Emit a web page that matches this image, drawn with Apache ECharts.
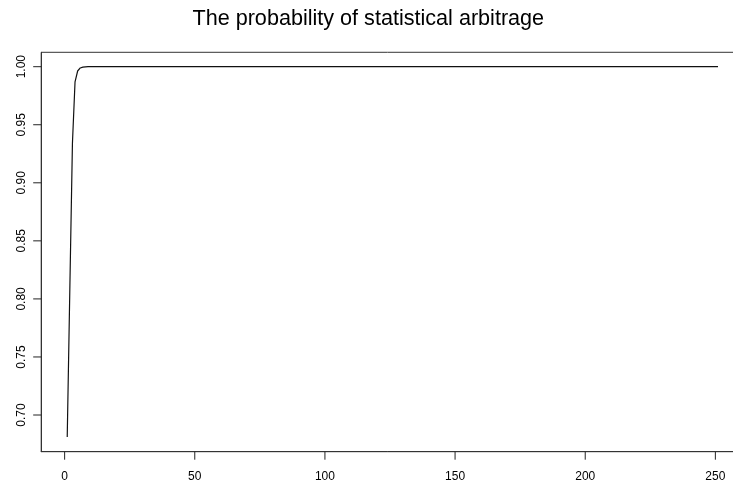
<!DOCTYPE html>
<html><head><meta charset="utf-8">
<script src="https://cdn.jsdelivr.net/npm/echarts@6/dist/echarts.min.js"></script>
<style>html,body{margin:0;padding:0;background:#fff}#c{width:733px;height:484px}</style>
</head><body><div id="c"></div>
<script>
const titleText = 'The probability of statistical arbitrage';
const xTicks = [0, 50, 100, 150, 200, 250];
const yTicks = [0.70, 0.75, 0.80, 0.85, 0.90, 0.95, 1.00];
const firstStep = 1;
const probs = [
  0.681, 0.8085, 0.934, 0.987, 0.9963, 0.9989, 0.9996, 0.9999,
  1,1,1,1,1,1,1,1,1,1,
  1,1,1,1,1,1,1,1,1,1,
  1,1,1,1,1,1,1,1,1,1,
  1,1,1,1,1,1,1,1,1,1,
  1,1,1,1,1,1,1,1,1,1,
  1,1,1,1,1,1,1,1,1,1,
  1,1,1,1,1,1,1,1,1,1,
  1,1,1,1,1,1,1,1,1,1,
  1,1,1,1,1,1,1,1,1,1,
  1,1,1,1,1,1,1,1,1,1,
  1,1,1,1,1,1,1,1,1,1,
  1,1,1,1,1,1,1,1,1,1,
  1,1,1,1,1,1,1,1,1,1,
  1,1,1,1,1,1,1,1,1,1,
  1,1,1,1,1,1,1,1,1,1,
  1,1,1,1,1,1,1,1,1,1,
  1,1,1,1,1,1,1,1,1,1,
  1,1,1,1,1,1,1,1,1,1,
  1,1,1,1,1,1,1,1,1,1,
  1,1,1,1,1,1,1,1,1,1,
  1,1,1,1,1,1,1,1,1,1,
  1,1,1,1,1,1,1,1,1,1,
  1,1,1,1,1,1,1,1,1,1,
  1,1,1,1,1,1,1,1,1,1,
  1,1,1
];

const X_MIN = -9, X_MAX = 261, Y_MIN = 0.6684, Y_MAX = 1.0124;
const chart = echarts.init(document.getElementById('c'), null, { renderer: 'canvas' });
const data = probs.map((v, i) => [firstStep + i, v]);
const font = 'Liberation Sans, Arial, sans-serif';
const TICK_LEN = 8;

chart.setOption({
  animation: false,
  backgroundColor: '#fff',
  title: {
    text: titleText, left: 363.3, top: 3, textAlign: 'center',
    textStyle: { fontFamily: font, fontSize: 21.6, fontWeight: 'normal', color: '#000' }
  },
  grid: { left: 41.2, top: 52.3, right: -11, bottom: 32.3, show: true, borderColor: '#333', borderWidth: 1,
    containLabel: false, outerBoundsMode: 'none' },
  xAxis: {
    type: 'value', min: X_MIN, max: X_MAX,
    axisLine: { show: true, onZero: false, lineStyle: { color: '#333' } },
    splitLine: { show: false },
    axisTick: { show: false },
    axisLabel: { customValues: xTicks, margin: 19, fontFamily: font, fontSize: 12, color: '#000' }
  },
  yAxis: {
    type: 'value', min: Y_MIN, max: Y_MAX,
    axisLine: { show: true, onZero: false, lineStyle: { color: '#333' } },
    splitLine: { show: false },
    axisTick: { show: false },
    axisLabel: { customValues: yTicks, rotate: 90, margin: 14, fontFamily: font, fontSize: 12, color: '#000',
      formatter: v => v.toFixed(2) }
  },
  series: [
    {
      type: 'line', data: data, showSymbol: false, symbol: 'none',
      lineStyle: { color: '#111', width: 1.2 }
    },
    {
      type: 'custom', clip: false, silent: true,
      data: xTicks.map(v => [v, Y_MIN]),
      encode: { x: 0, y: 1 },
      renderItem: function (params, api) {
        const p = api.coord([api.value(0), api.value(1)]);
        return { type: 'line', shape: { x1: p[0], y1: p[1], x2: p[0], y2: p[1] + TICK_LEN },
          style: { stroke: '#222', lineWidth: 1 } };
      }
    },
    {
      type: 'custom', clip: false, silent: true,
      data: yTicks.map(v => [X_MIN, v]),
      encode: { x: 0, y: 1 },
      renderItem: function (params, api) {
        const p = api.coord([api.value(0), api.value(1)]);
        return { type: 'line', shape: { x1: p[0] - TICK_LEN, y1: p[1], x2: p[0], y2: p[1] },
          style: { stroke: '#222', lineWidth: 1 } };
      }
    }
  ]
});
</script></body></html>
